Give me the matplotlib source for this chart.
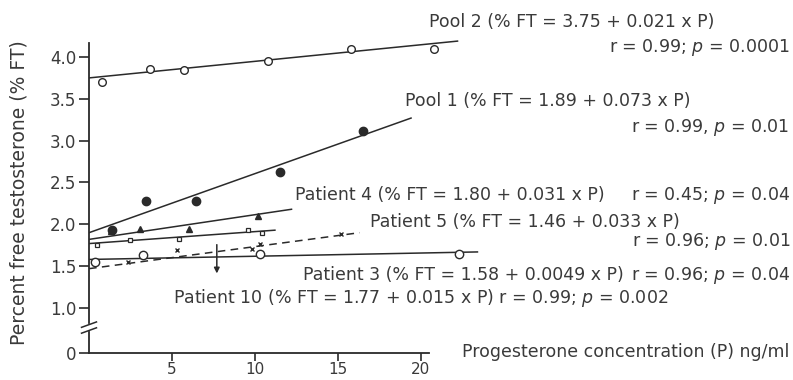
import numpy as np
import matplotlib
matplotlib.use("Agg")
import matplotlib.pyplot as plt

plt.rcParams['font.family'] = ['DejaVu Sans']
plt.rcParams['mathtext.fontset'] = 'dejavusans'

# ---------------- data ----------------
pool2_x = [0.76, 3.67, 5.74, 10.8, 15.8, 20.8]
pool2_y = [3.70, 3.86, 3.85, 3.95, 4.10, 4.10]
pool2_line_x = [0, 22.2]
pool2_line_y = [3.75, 4.19]

pool1_x = [1.37, 3.43, 6.45, 11.5, 16.5]
pool1_y = [1.93, 2.28, 2.28, 2.63, 3.11]
pool1_line_x = [0, 19.4]
pool1_line_y = [1.90, 3.27]

pat4_x = [1.3, 3.1, 6.0, 10.2]
pat4_y = [1.92, 1.94, 1.94, 2.10]
pat4_line_x = [0, 12.2]
pat4_line_y = [1.82, 2.18]

pat10_x = [0.46, 2.47, 5.42, 9.6, 10.4]
pat10_y = [1.75, 1.81, 1.83, 1.93, 1.90]
pat10_line_x = [0, 11.2]
pat10_line_y = [1.77, 1.93]

pat5_x = [2.37, 5.3, 9.8, 10.3, 15.2]
pat5_y = [1.55, 1.69, 1.70, 1.77, 1.88]
pat5_line_x = [0, 16.3]
pat5_line_y = [1.47, 1.90]
pat5_arrow_x = 7.7
pat5_arrow_y = [1.79, 1.38]

pat3_x = [0.36, 3.27, 10.3, 22.3]
pat3_y = [1.555, 1.63, 1.65, 1.65]
pat3_line_x = [0, 23.4]
pat3_line_y = [1.58, 1.67]

xticks = [5, 10, 15, 20]
yticks = [0, 1.0, 1.5, 2.0, 2.5, 3.0, 3.5, 4.0]
ytick_labels = ['0', '1.0', '1.5', '2.0', '2.5', '3.0', '3.5', '4.0']

# ---------------- broken y scale ----------------
K = 0.538

def fwd(y):
    y = np.asarray(y, dtype=float)
    return np.where(y >= 1, y, 1 - (1 - y) * K)

def inv(v):
    v = np.asarray(v, dtype=float)
    return np.where(v >= 1, v, 1 - (1 - v) / K)

W, H = 793, 380
fig = plt.figure(figsize=(W / 100, H / 100), dpi=100)
ax = fig.add_axes([89 / W, 27 / H, 406.7 / W, 321.1 / H])
ax.set_yscale('function', functions=(fwd, inv))
ax.set_xlim(0, 24.5)
ax.set_ylim(0, 4.3)
ax.patch.set_alpha(0)

ink = '#2a2a2a'
txt = '#3a3a3a'
lw = 1.1

# lines
ax.plot(pool2_line_x, pool2_line_y, color=ink, lw=lw)
ax.plot(pool1_line_x, pool1_line_y, color=ink, lw=lw)
ax.plot(pat4_line_x, pat4_line_y, color=ink, lw=lw)
ax.plot(pat10_line_x, pat10_line_y, color=ink, lw=lw)
ax.plot(pat5_line_x, pat5_line_y, color=ink, lw=lw, ls=(0, (5, 3.5)))
ax.plot(pat3_line_x, pat3_line_y, color=ink, lw=lw)

# markers
ax.plot(pool2_x, pool2_y, 'o', ms=5.5, mfc='white', mec=ink, mew=1.0, clip_on=False)
ax.plot(pool1_x, pool1_y, 'o', ms=6, mfc=ink, mec=ink, clip_on=False)
ax.plot(pat4_x, pat4_y, '^', ms=5, mfc=ink, mec=ink, clip_on=False)
ax.plot(pat10_x, pat10_y, 's', ms=3.5, mfc='white', mec=ink, mew=0.9, clip_on=False)
ax.plot(pat5_x, pat5_y, 'x', ms=3.5, mec=ink, mew=1.0, clip_on=False)
ax.plot(pat3_x, pat3_y, 'o', ms=6, mfc='white', mec=ink, mew=1.0, clip_on=False)
ax.annotate('', xy=(pat5_arrow_x, pat5_arrow_y[1]), xytext=(pat5_arrow_x, pat5_arrow_y[0]),
            arrowprops=dict(arrowstyle='-|>', color=ink, lw=1.1, mutation_scale=8))

# spines and ticks
for s in ['top', 'right']:
    ax.spines[s].set_visible(False)
ax.spines['left'].set_bounds(0.66, 4.17)
ax.spines['bottom'].set_bounds(0, 20.5)
for s in ['left', 'bottom']:
    ax.spines[s].set_color(ink)
    ax.spines[s].set_linewidth(1.3)
# lower piece of broken y axis
ax.plot([0, 0], [0, 0.47], color=ink, lw=1.3, clip_on=False)
# break marks
for yb in [0.50, 0.63]:
    ax.plot([-0.45, 0.45], [yb - 0.06, yb + 0.06], color=ink, lw=1.1, clip_on=False)

ax.set_xticks(xticks)
ax.set_xticklabels([str(t) for t in xticks])
ax.set_yticks(yticks)
ax.set_yticklabels(ytick_labels)
ax.tick_params(axis='both', colors=ink, labelcolor=txt, width=1.2)
ax.tick_params(axis='y', pad=2, labelsize=12, length=7)
ax.tick_params(axis='x', pad=0.5, labelsize=11, length=6)

fig.text(19 / W, 1 - 193 / H, 'Percent free testosterone (% FT)', rotation=90,
         ha='center', va='center', fontsize=13.5, color=txt)

FS = 12.5

def ftext(px, py, s, ha='left', **kw):
    fig.text(px / W, 1 - py / H, s, ha=ha, va='center', fontsize=FS, color=txt, **kw)

ftext(429, 22, 'Pool 2 (% FT = 3.75 + 0.021 x P)')
ftext(790, 47, 'r = 0.99; $p$ = 0.0001', ha='right')
ftext(405, 101, 'Pool 1 (% FT = 1.89 + 0.073 x P)')
ftext(789, 127, 'r = 0.99, $p$ = 0.01', ha='right')
ftext(295, 195, 'Patient 4 (% FT = 1.80 + 0.031 x P)')
ftext(790, 195, 'r = 0.45; $p$ = 0.04', ha='right')
ftext(370, 222, 'Patient 5 (% FT = 1.46 + 0.033 x P)')
ftext(790, 241, 'r = 0.96; $p$ = 0.01', ha='right')
ftext(303, 275, 'Patient 3 (% FT = 1.58 + 0.0049 x P)')
ftext(790, 275, 'r = 0.96; $p$ = 0.04', ha='right')
ftext(173, 298, 'Patient 10 (% FT = 1.77 + 0.015 x P) r = 0.99; $p$ = 0.002')
ftext(462, 352, 'Progesterone concentration (P) ng/ml')

fig.savefig('out.png', dpi=100)
